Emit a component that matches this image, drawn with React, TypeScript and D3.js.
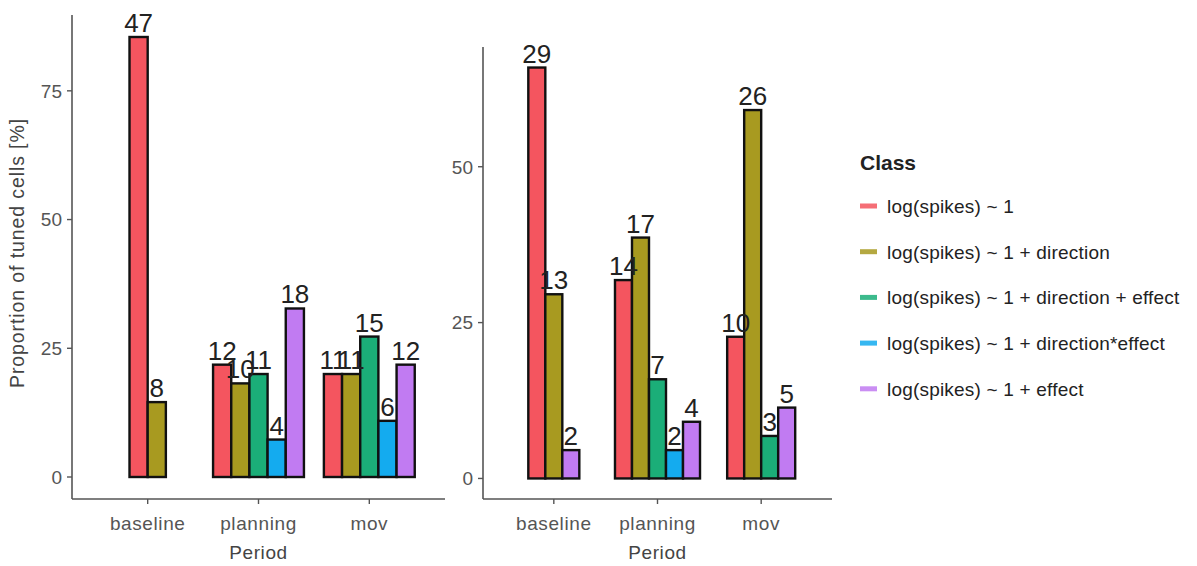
import React from "react";
import * as d3 from "d3";

const periods = ["baseline", "planning", "mov"];
const classes = [
  "log(spikes) ~ 1",
  "log(spikes) ~ 1 + direction",
  "log(spikes) ~ 1 + direction + effect",
  "log(spikes) ~ 1 + direction*effect",
  "log(spikes) ~ 1 + effect",
];
const classColors = ["#F4555F", "#A89A20", "#1BAE78", "#14ABEF", "#C17BF2"];

// counts per class (rows) x period (cols); null = class absent in that period
const leftCounts: (number | null)[][] = [
  [47, 12, 11],
  [8, 10, 11],
  [null, 11, 15],
  [null, 4, 6],
  [null, 18, 12],
];
const rightCounts: (number | null)[][] = [
  [29, 14, 10],
  [13, 17, 26],
  [null, 7, 3],
  [null, 2, null],
  [2, 4, 5],
];
const leftTicks = [0, 25, 50, 75];
const rightTicks = [0, 25, 50];

const FONT = "'Liberation Sans', Arial, Helvetica, sans-serif";

type PanelProps = {
  counts: (number | null)[][];
  ticks: number[];
  x0: number;
  x1: number;
  top: number;
  bottom: number;
  showYTitle: boolean;
};

function Panel({ counts, ticks, x0, x1, top, bottom, showYTitle }: PanelProps) {
  const totals = periods.map((_, j) =>
    d3.sum(counts, (row) => (row[j] == null ? 0 : (row[j] as number)))
  );
  const pct = counts.map((row) =>
    row.map((v, j) => (v == null ? null : (v / totals[j]) * 100))
  );
  const maxPct = d3.max(pct.flat().filter((v) => v != null) as number[]) as number;
  const y = d3
    .scaleLinear()
    .domain([-0.05 * maxPct, 1.05 * maxPct])
    .range([bottom, top]);
  const x = d3.scalePoint<string>().domain(periods).range([x0, x1]).padding(0.683);
  const bw = x.step() * 0.164;

  const bars: { x: number; y: number; h: number; color: string; count: number }[] = [];
  periods.forEach((p, j) => {
    const present = classes.map((_, i) => i).filter((i) => counts[i][j] != null);
    const start = (x(p) as number) - (present.length * bw) / 2;
    present.forEach((i, k) => {
      const v = pct[i][j] as number;
      bars.push({
        x: start + k * bw,
        y: y(v),
        h: y(0) - y(v),
        color: classColors[i],
        count: counts[i][j] as number,
      });
    });
  });

  const midX = (x0 + x1) / 2;
  return (
    <g>
      <line x1={x0} x2={x0} y1={top} y2={bottom} stroke="#555" strokeWidth={1.6} />
      <line x1={x0} x2={x1} y1={bottom} y2={bottom} stroke="#555" strokeWidth={1.6} />
      {ticks.map((t) => (
        <g key={t}>
          <line x1={x0 - 5} x2={x0} y1={y(t)} y2={y(t)} stroke="#555" strokeWidth={1.4} />
          <text
            x={x0 - 10}
            y={y(t)}
            dy="0.36em"
            textAnchor="end"
            fontSize={19}
            fill="#555"
            fontFamily={FONT}
          >
            {t}
          </text>
        </g>
      ))}
      {periods.map((p) => (
        <g key={p}>
          <line
            x1={x(p)}
            x2={x(p)}
            y1={bottom}
            y2={bottom + 5}
            stroke="#555"
            strokeWidth={1.4}
          />
          <text
            x={x(p)}
            y={bottom + 31}
            textAnchor="middle"
            fontSize={19}
            letterSpacing={0.6}
            fill="#555"
            fontFamily={FONT}
          >
            {p}
          </text>
        </g>
      ))}
      <text
        x={midX}
        y={bottom + 60}
        textAnchor="middle"
        fontSize={19}
        letterSpacing={0.6}
        fill="#444"
        fontFamily={FONT}
      >
        Period
      </text>
      {showYTitle && (
        <text
          transform={`translate(${x0 - 48},${(top + bottom) / 2 - 4}) rotate(-90)`}
          textAnchor="middle"
          fontSize={19.5}
          letterSpacing={0.9}
          fill="#444"
          fontFamily={FONT}
        >
          Proportion of tuned cells [%]
        </text>
      )}
      {bars.map((b, i) => (
        <rect
          key={"r" + i}
          x={b.x}
          y={b.y}
          width={bw}
          height={b.h}
          fill={b.color}
          stroke="#111"
          strokeWidth={2.4}
        />
      ))}
      {bars.map((b, i) => (
        <text
          key={"t" + i}
          x={b.x + bw / 2}
          y={b.y - 5}
          textAnchor="middle"
          fontSize={26}
          fill="#222"
          fontFamily={FONT}
        >
          {b.count}
        </text>
      ))}
    </g>
  );
}

export default function App() {
  const legendRows = d3.range(classes.length).map((i) => 206 + i * 45.7);
  return (
    <svg
      width={1197}
      height={566}
      style={{ position: "absolute", left: 0, top: 0, background: "#fff" }}
    >
      <rect width={1197} height={566} fill="#fff" />
      <Panel
        counts={leftCounts}
        ticks={leftTicks}
        x0={72}
        x1={445}
        top={15}
        bottom={499}
        showYTitle={true}
      />
      <Panel
        counts={rightCounts}
        ticks={rightTicks}
        x0={483}
        x1={832}
        top={47}
        bottom={499}
        showYTitle={false}
      />
      <text x={860} y={170} fontSize={21} fontWeight="bold" fill="#222" fontFamily={FONT}>
        Class
      </text>
      {classes.map((c, i) => (
        <g key={c}>
          <line
            x1={860}
            x2={877}
            y1={legendRows[i]}
            y2={legendRows[i]}
            stroke={classColors[i]}
            strokeWidth={5}
            opacity={0.85}
          />
          <text
            x={887}
            y={legendRows[i]}
            dy="0.36em"
            fontSize={19}
            letterSpacing={0.2}
            fill="#222"
            fontFamily={FONT}
          >
            {c}
          </text>
        </g>
      ))}
    </svg>
  );
}
